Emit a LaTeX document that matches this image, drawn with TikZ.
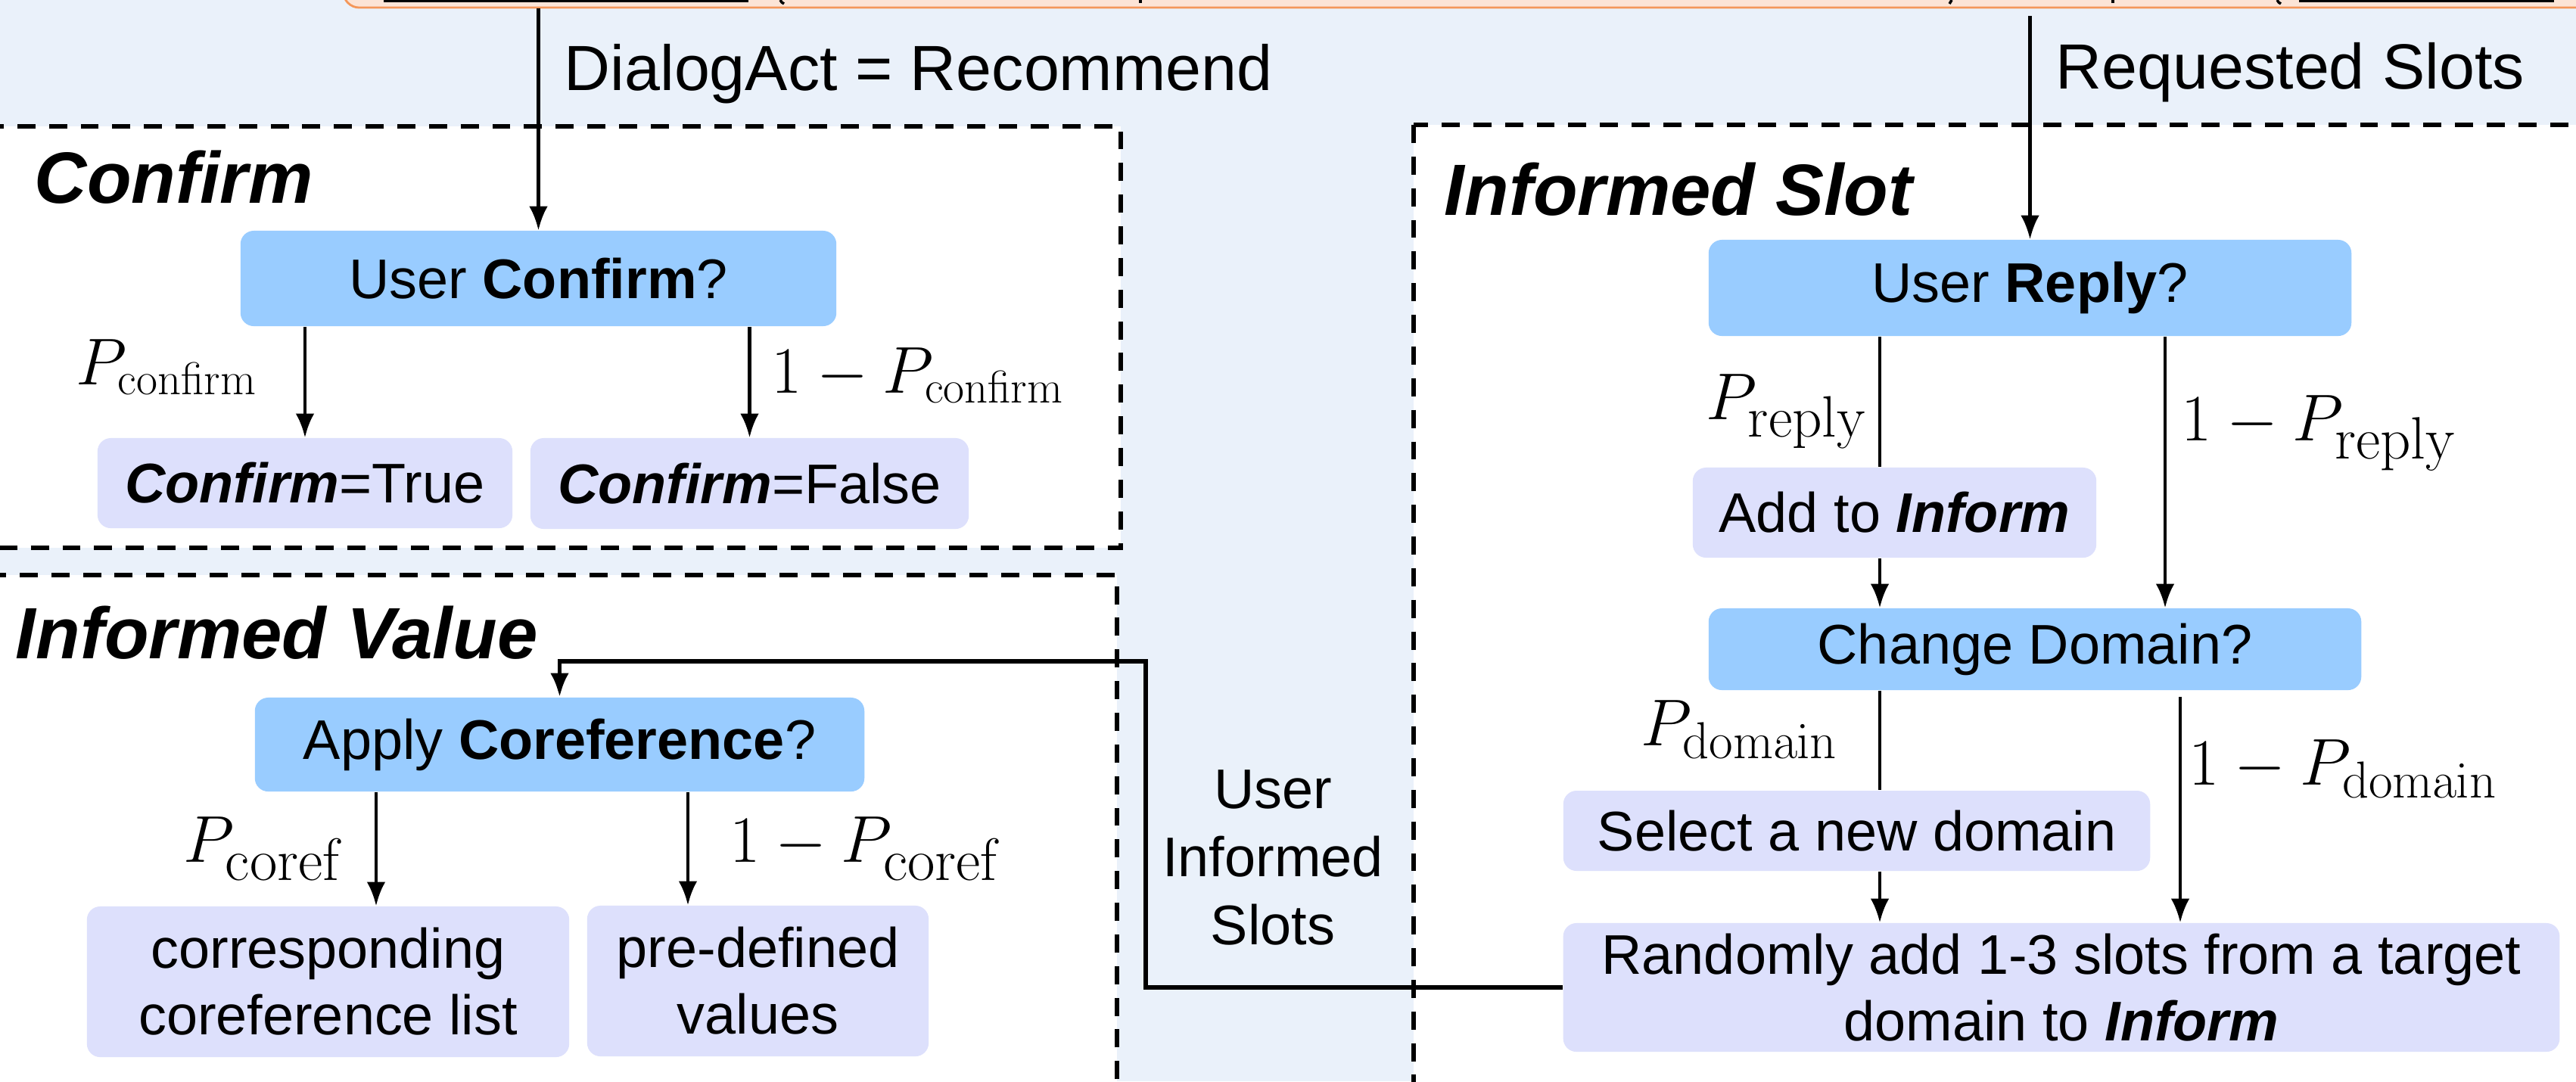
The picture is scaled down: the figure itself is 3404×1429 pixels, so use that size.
\documentclass[tikz,border=0pt]{standalone}
\usepackage[no-math]{fontspec}
\usepackage{graphicx}
\setmainfont{Liberation Sans}
\usetikzlibrary{arrows.meta,calc}

\definecolor{bgblue}{HTML}{EAF1FA}
\definecolor{qblue}{HTML}{99CCFF}
\definecolor{lav}{HTML}{DDE0FC}
\definecolor{srcfill}{HTML}{FCE4D6}
\definecolor{srcline}{HTML}{F4975A}

% enlarged upright subscript
\newcommand{\bigsub}[2]{\scalebox{#1}{$\scriptstyle\mathrm{#2}$}}

\tikzset{
  region/.style={draw=black, fill=white, line width=1.9pt, dash pattern=on 6.8pt off 5.1pt},
  boxtext/.style={rounded corners=5pt, inner sep=0pt, align=center, font=\fontsize{21}{25}\selectfont},
  question/.style={boxtext, fill=qblue},
  outcome/.style={boxtext, fill=lav},
  flow/.style={line width=1.3pt, -{Latex[length=9pt,width=7pt]}},
  plain/.style={line width=1.3pt},
  title/.style={anchor=base west, inner sep=0pt, font=\fontsize{27.3}{32}\selectfont\bfseries\itshape},
  prob/.style={anchor=base west, inner sep=0pt, font=\fontsize{24}{29}\selectfont},
  flowlabel/.style={anchor=base west, inner sep=0pt, font=\fontsize{24}{29}\selectfont},
}

\begin{document}
\begin{tikzpicture}[x=0.01cm, y=-0.01cm]
\useasboundingbox (0,0) rectangle (3404,1429);
\fill[bgblue] (0,0) rectangle (3404,1429);

% source box along the top edge
\node[draw=srcline, fill=srcfill, line width=0.8pt, rounded corners=6pt,
      minimum width=30.05cm, minimum height=0.9cm, inner sep=0pt] (src) at (1957,-35) {};
\fill (507,0) rectangle (989,3);
\fill (3038,0) rectangle (3375,3);
\draw[line width=1pt] (1031,0) to[bend right=20] (1036,5);
\draw[line width=1pt] (1507,0) -- (1507,4);
\draw[line width=1pt] (2579,0) -- (2576,5);
\draw[line width=1pt] (2792,0) -- (2792,4);
\draw[line width=1pt] (3009,0) to[bend right=20] (3014,5);

% dashed regions
\draw[region] (-30,167) rectangle (1481,724);
\draw[region] (-30,760) rectangle (1476,1470);
\draw[region] (1868,165) rectangle (3460,1470);

% region titles
\node[title] (tconf) at (45,268) {Confirm};
\node[title] (tslot) at (1908,284) {Informed Slot};
\node[title] (tval) at (20,870) {Informed Value};

% Confirm
\node[question, minimum width=7.87cm, minimum height=1.26cm] (conf) at (711.5,368) {User \textbf{Confirm}?};
\node[outcome, minimum width=5.48cm, minimum height=1.19cm] (ctrue) at (403,638.5) {\textbf{\textit{Confirm}}=True};
\node[outcome, minimum width=5.79cm, minimum height=1.2cm] (cfalse) at (990.5,639) {\textbf{\textit{Confirm}}=False};

% Informed Slot
\node[question, minimum width=8.49cm, minimum height=1.27cm] (reply) at (2682.5,380.5) {User \textbf{Reply}?};
\node[outcome, minimum width=5.33cm, minimum height=1.19cm] (addinf) at (2503.5,677.5) {Add to \textbf{\textit{Inform}}};
\node[question, minimum width=8.62cm, minimum height=1.08cm] (chdom) at (2689,858) {Change Domain?};
\node[outcome, minimum width=7.75cm, minimum height=1.06cm] (seldom) at (2453.5,1098) {Select a new domain};
\node[outcome, minimum width=13.16cm, minimum height=1.7cm] (rand) at (2724,1305) {Randomly add 1-3 slots from a target\\domain to \textbf{\textit{Inform}}};

% Informed Value
\node[question, minimum width=8.05cm, minimum height=1.24cm] (coref) at (739.5,984) {Apply \textbf{Coreference}?};
\node[outcome, minimum width=6.37cm, minimum height=1.99cm] (corr) at (433.5,1297.5) {corresponding\\coreference list};
\node[outcome, minimum width=4.51cm, minimum height=1.99cm] (predef) at (1001.5,1296.5) {pre-defined\\values};

% columns of the branch lines
\coordinate (colL) at (2484,0);
\coordinate (colR) at (2861,0);
\coordinate (colR2) at (2881,0);
\coordinate (colC1) at (497,0);
\coordinate (colC2) at (909,0);
\coordinate (bend1) at (1514,874);

% connectors
\draw[flow] (src.south -| conf.north) -- (conf.north);
\draw[flow] ($(src.south -| reply.north)+(0,10)$) -- (reply.north);

\draw[flow] (conf.south -| ctrue.north) -- (ctrue.north);
\draw[flow] (conf.south -| cfalse.north) -- (cfalse.north);

\draw[plain] (reply.south -| colL) -- (addinf.north -| colL);
\draw[flow] (addinf.south -| colL) -- (chdom.north -| colL);
\draw[flow] (reply.south -| colR) -- (chdom.north -| colR);

\draw[plain] (chdom.south -| colL) -- (seldom.north -| colL);
\draw[flow] (seldom.south -| colL) -- (rand.north -| colL);
\draw[flow, shorten <=2.3pt] (chdom.south -| colR2) -- (rand.north -| colR2);

\draw[flow] (coref.south -| colC1) -- (corr.north -| colC1);
\draw[flow] (coref.south -| colC2) -- (predef.north -| colC2);

\draw[flow, line width=1.6pt] (rand.west) -| (bend1) -| (coref.north);

% connector labels
\node[flowlabel] (lact) at (745,119) {DialogAct = Recommend};
\node[flowlabel] (lreq) at (2716,117) {Requested Slots};
\node[anchor=center, align=center, inner sep=0pt, font=\fontsize{21}{25.6}\selectfont] (luis) at (1682,1133) {User\\Informed\\Slots};

% branch probabilities
\node[prob] (p1) at (100,508) {$P_{\mathrm{confirm}}$};
\node[prob] (p2) at (1019,519) {$1-P_{\mathrm{confirm}}$};
\node[prob] (p3) at (2254,554) {$P_{\bigsub{1.27}{reply}}$};
\node[prob] (p4) at (2882,582) {$1-P_{\bigsub{1.3}{reply}}$};
\node[prob] (p5) at (2168,985) {$P_{\bigsub{1.13}{domain}}$};
\node[prob] (p6) at (2892,1037) {$1-P_{\bigsub{1.13}{domain}}$};
\node[prob] (p7) at (242,1139) {$P_{\bigsub{1.3}{coref}}$};
\node[prob] (p8) at (964,1139) {$1-P_{\bigsub{1.3}{coref}}$};
\end{tikzpicture}
\end{document}
